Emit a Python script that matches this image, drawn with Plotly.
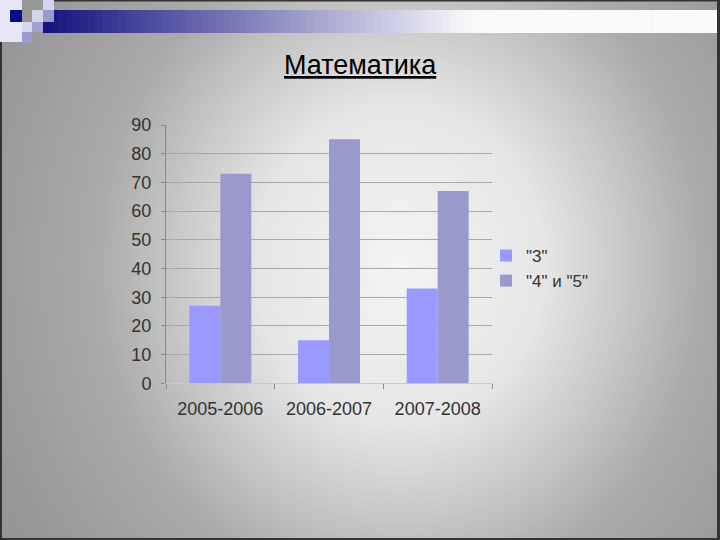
import plotly.graph_objects as go

# ---- data ----
categories = ["2005-2006", "2006-2007", "2007-2008"]
series_names = ['"3"', '"4" и "5"']
values_3 = [27, 15, 33]
values_45 = [73, 85, 67]
y_ticks = [0, 10, 20, 30, 40, 50, 60, 70, 80, 90]
title_text = "Математика"

W, H = 720, 540

def px(x):
    return x / W

def py(y):
    return 1 - y / H

shapes = []

# ---- radial background (concentric ellipses) ----
stops = [(0.0, 244), (0.4, 230), (0.6, 204), (0.85, 170), (1.2, 152), (1.6, 140)]

def val_at(r):
    for (r0, v0), (r1, v1) in zip(stops[:-1], stops[1:]):
        if r <= r1:
            t = (r - r0) / (r1 - r0)
            return v0 + t * (v1 - v0)
    return stops[-1][1]

cx, cy, rx, ry = 400, 265, 360, 400
N = 140
for i in range(N):
    r = 1.6 * (1 - i / N)
    v = int(round(val_at(r)))
    shapes.append(dict(type="circle", xref="paper", yref="paper",
                       x0=px(cx - r * rx), x1=px(cx + r * rx),
                       y0=py(cy + r * ry), y1=py(cy - r * ry),
                       fillcolor=f"rgb({v},{v},{v})", line=dict(width=0),
                       layer="below"))

# ---- top gradient bar ----
x_start, x_end = 43, 720
nav = (20, 20, 128)
wht = (250, 250, 252)
grad_end = 470
steps = 90
for i in range(steps):
    xa = x_start + (x_end - x_start) * i / steps
    xb = x_start + (x_end - x_start) * (i + 1) / steps + 0.5
    t = min(1.0, (xa - x_start) / (grad_end - x_start))
    c = tuple(int(round(nav[k] + t * (wht[k] - nav[k]))) for k in range(3))
    shapes.append(dict(type="rect", xref="paper", yref="paper",
                       x0=px(xa), x1=px(xb), y0=py(33), y1=py(10),
                       fillcolor=f"rgb{c}", line=dict(width=0), layer="below"))

# ---- decorative squares ----
squares = [
    (0, 22, 0, 42, "#e6e6f6"),
    (10, 22, 10, 22, "#0c0c88"),
    (32, 43, 10, 22, "#d4d4ee"),
    (43, 54, 0, 10, "#d4d4ee"),
    (43, 54, 10, 22, "#9a9acc"),
    (22, 32, 22, 32, "#d8d8f0"),
    (32, 43, 22, 32, "#a0a0d2"),
    (22, 32, 32, 43, "#9c9cd0"),
]
for x0, x1, y0, y1, col in squares:
    shapes.append(dict(type="rect", xref="paper", yref="paper",
                       x0=px(x0), x1=px(x1), y0=py(y1), y1=py(y0),
                       fillcolor=col, line=dict(width=0), layer="below"))

# ---- dark frame edges ----
for x0, x1, y0, y1 in [(54, 720, 0, 1.5), (0, 2, 42, 540), (717, 720, 0, 540), (0, 720, 538, 540)]:
    shapes.append(dict(type="rect", xref="paper", yref="paper",
                       x0=px(x0), x1=px(x1), y0=py(y1), y1=py(y0),
                       fillcolor="#333333", line=dict(width=0), layer="above"))

fig = go.Figure()
fig.add_trace(go.Bar(x=categories, y=values_3, name=series_names[0],
                     marker=dict(color="#9999FF", line=dict(width=0)),
                     legendgroup="a"))
fig.add_trace(go.Bar(x=categories, y=values_45, name=series_names[1],
                     marker=dict(color="#9999CC", line=dict(width=0)),
                     legendgroup="b"))

font_family = "Liberation Sans, Arial, sans-serif"

fig.update_layout(
    width=W, height=H,
    margin=dict(l=0, r=0, t=0, b=0, pad=0, autoexpand=False),
    paper_bgcolor="#c0c0c0",
    plot_bgcolor="rgba(0,0,0,0)",
    barmode="group",
    bargap=0.43,
    bargroupgap=0,
    shapes=shapes,
    font=dict(family=font_family, color="#333333"),
    showlegend=True,
    legend=dict(x=px(486), y=py(238), xanchor="left", yanchor="top",
                bgcolor="rgba(0,0,0,0)", font=dict(size=17, color="#333333"),
                traceorder="normal", tracegroupgap=8, itemwidth=30),
    xaxis=dict(domain=[px(166), px(492)], showgrid=False, automargin=False,
               showline=True, linecolor="#c8c8c8", linewidth=1,
               ticks="outside", tickson="boundaries", ticklen=5,
               tickcolor="#888888",
               tickfont=dict(size=18, color="#333333"),
               ticklabelstandoff=9, fixedrange=True),
    yaxis=dict(domain=[py(383.3), py(125)], range=[0, 90], automargin=False,
               tickvals=y_ticks, showgrid=True, gridcolor="#a8a8a8",
               gridwidth=1, showline=True, linecolor="#888888", linewidth=1,
               ticks="outside", ticklen=4, tickcolor="#888888",
               tickfont=dict(size=18, color="#333333"),
               ticklabelstandoff=6, zeroline=False, fixedrange=True),
    annotations=[dict(text=f"<u>{title_text}</u>", xref="paper", yref="paper",
                      x=px(360), y=py(65), xanchor="center", yanchor="middle",
                      showarrow=False,
                      font=dict(size=27, color="#000000", family=font_family))],
)

fig.write_html("out.html", config={"displayModeBar": False},
               post_script="document.body.style.margin='0';document.body.style.overflow='hidden';")
